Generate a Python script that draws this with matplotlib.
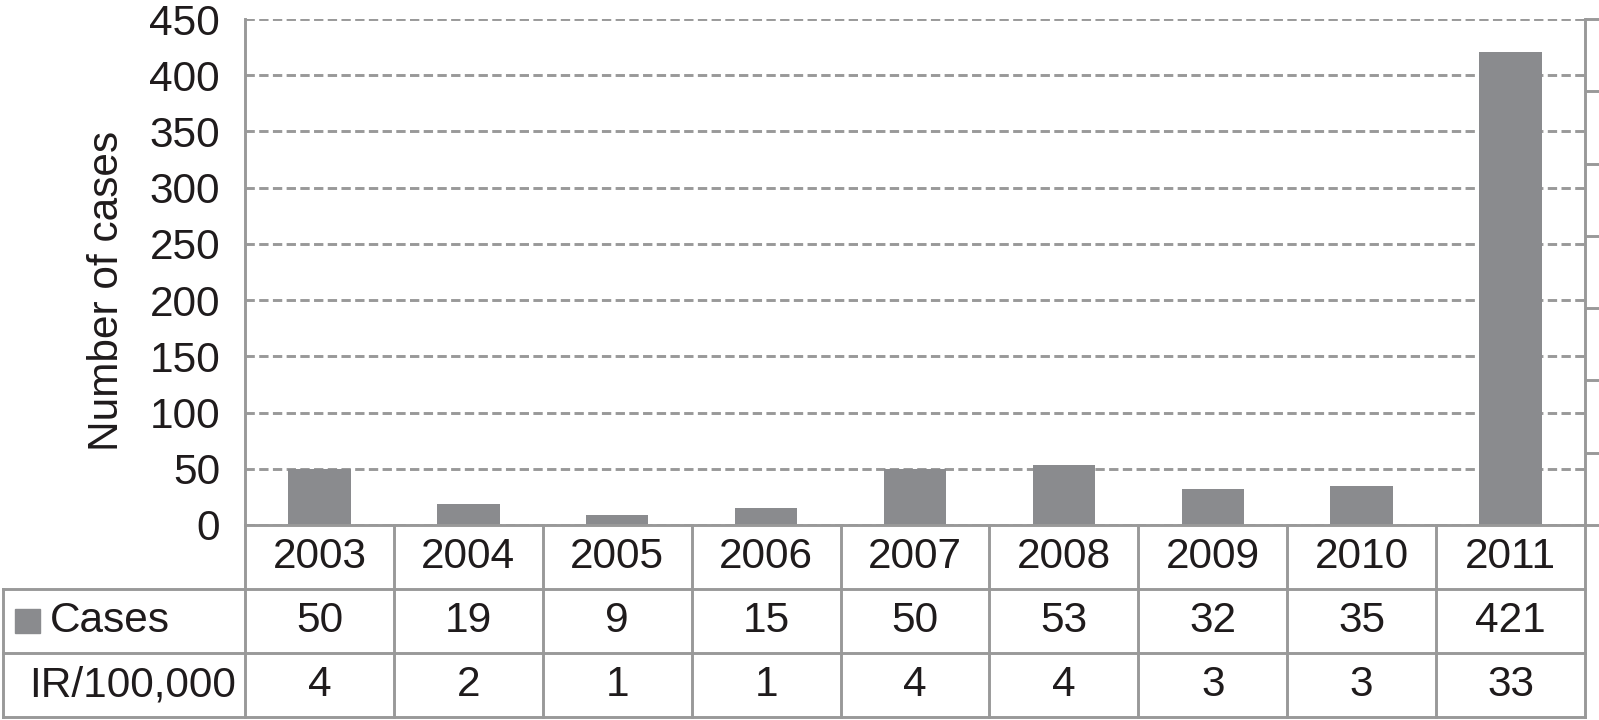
import matplotlib
matplotlib.use("Agg")
import matplotlib.pyplot as plt
import numpy as np

# data
years = ["2003", "2004", "2005", "2006", "2007", "2008", "2009", "2010", "2011"]
cases = [50, 19, 9, 15, 50, 53, 32, 35, 421]
ir_per_100k = [4, 2, 1, 1, 4, 4, 3, 3, 33]
row_labels = ["Cases", "IR/100,000"]
y_ticks = list(range(0, 451, 50))
ir_ticks = list(range(0, 36, 5))

BAR_COLOR = "#8a8b8e"
LINE_COLOR = "#999999"
TEXT_COLOR = "#1f1b1c"
FS = 30.5
LW = 2.1

plt.rcParams["font.family"] = ["Liberation Sans", "DejaVu Sans"]

W, H = 1599, 720
fig = plt.figure(figsize=(W / 100, H / 100), dpi=100)

# main plot area (pixel layout from the reference)
left_px, right_px, top_px, zero_px = 245, 1585, 19, 525
ax = fig.add_axes([left_px / W, (H - zero_px) / H,
                   (right_px - left_px) / W, (zero_px - top_px) / H])
x = np.arange(len(years))
ax.bar(x, cases, width=0.42, color=BAR_COLOR, zorder=3)
ax.set_xlim(-0.5, len(years) - 0.5)
ax.set_ylim(0, 450)
ax.set_yticks(y_ticks)
ax.set_xticks([])
ax.grid(axis="y", color=LINE_COLOR, linestyle=(0, (3.2, 1.5)), linewidth=LW, zorder=1)
ax.tick_params(axis="y", length=0, pad=18, labelsize=FS, labelcolor=TEXT_COLOR)
for s in ["top", "right"]:
    ax.spines[s].set_visible(False)
for s in ["left", "bottom"]:
    ax.spines[s].set_color(LINE_COLOR)
    ax.spines[s].set_linewidth(LW)
    ax.spines[s].set_zorder(4)
ax.text(-0.103, 0.462, "Number of cases", transform=ax.transAxes, rotation=90,
        ha="center", va="center", fontsize=FS, color=TEXT_COLOR)

# secondary axis (labels cropped away in the original)
ax2 = ax.twinx()
ax2.set_ylim(0, 35)
ax2.set_yticks(ir_ticks)
ax2.set_yticklabels([])
ax2.tick_params(axis="y", direction="out", length=12, width=LW, color=LINE_COLOR)
for s in ["top", "left", "bottom"]:
    ax2.spines[s].set_visible(False)
ax2.spines["right"].set_color(LINE_COLOR)
ax2.spines["right"].set_linewidth(LW)

# data table underneath
tab_left_px, tab_bottom_px = 3, 717
col_w = (right_px - left_px) / len(years)
x_left = -0.5 - (left_px - tab_left_px) / col_w
tab = fig.add_axes([tab_left_px / W, (H - tab_bottom_px) / H,
                    (right_px - tab_left_px) / W, (tab_bottom_px - zero_px) / H])
tab.set_xlim(x_left, len(years) - 0.5)
tab.set_ylim(3, 0)
tab.axis("off")
lk = dict(color=LINE_COLOR, linewidth=LW, solid_capstyle="projecting", clip_on=False)
for r in [1, 2, 3]:
    tab.plot([x_left, len(years) - 0.5], [r, r], **lk)
tab.plot([x_left, x_left], [1, 3], **lk)
for k in range(len(years) + 1):
    tab.plot([k - 0.5, k - 0.5], [0, 3], **lk)

for i, yr in enumerate(years):
    tab.text(i, 0.5, yr, ha="center", va="center", fontsize=FS, color=TEXT_COLOR)
    tab.text(i, 1.5, str(cases[i]), ha="center", va="center", fontsize=FS, color=TEXT_COLOR)
    tab.text(i, 2.5, str(ir_per_100k[i]), ha="center", va="center", fontsize=FS, color=TEXT_COLOR)

# legend swatch + row labels
sw = 25 / col_w
tab.add_patch(plt.Rectangle((x_left + 11.5 / col_w, 1.5 - 0.19), sw, 0.38,
                            color=BAR_COLOR, clip_on=False))
tab.text(x_left + 47 / col_w, 1.5, row_labels[0], ha="left", va="center",
         fontsize=FS, color=TEXT_COLOR)
tab.text(x_left + 26 / col_w, 2.5, row_labels[1], ha="left", va="center",
         fontsize=FS, color=TEXT_COLOR)

fig.savefig("out.png", dpi=100)
